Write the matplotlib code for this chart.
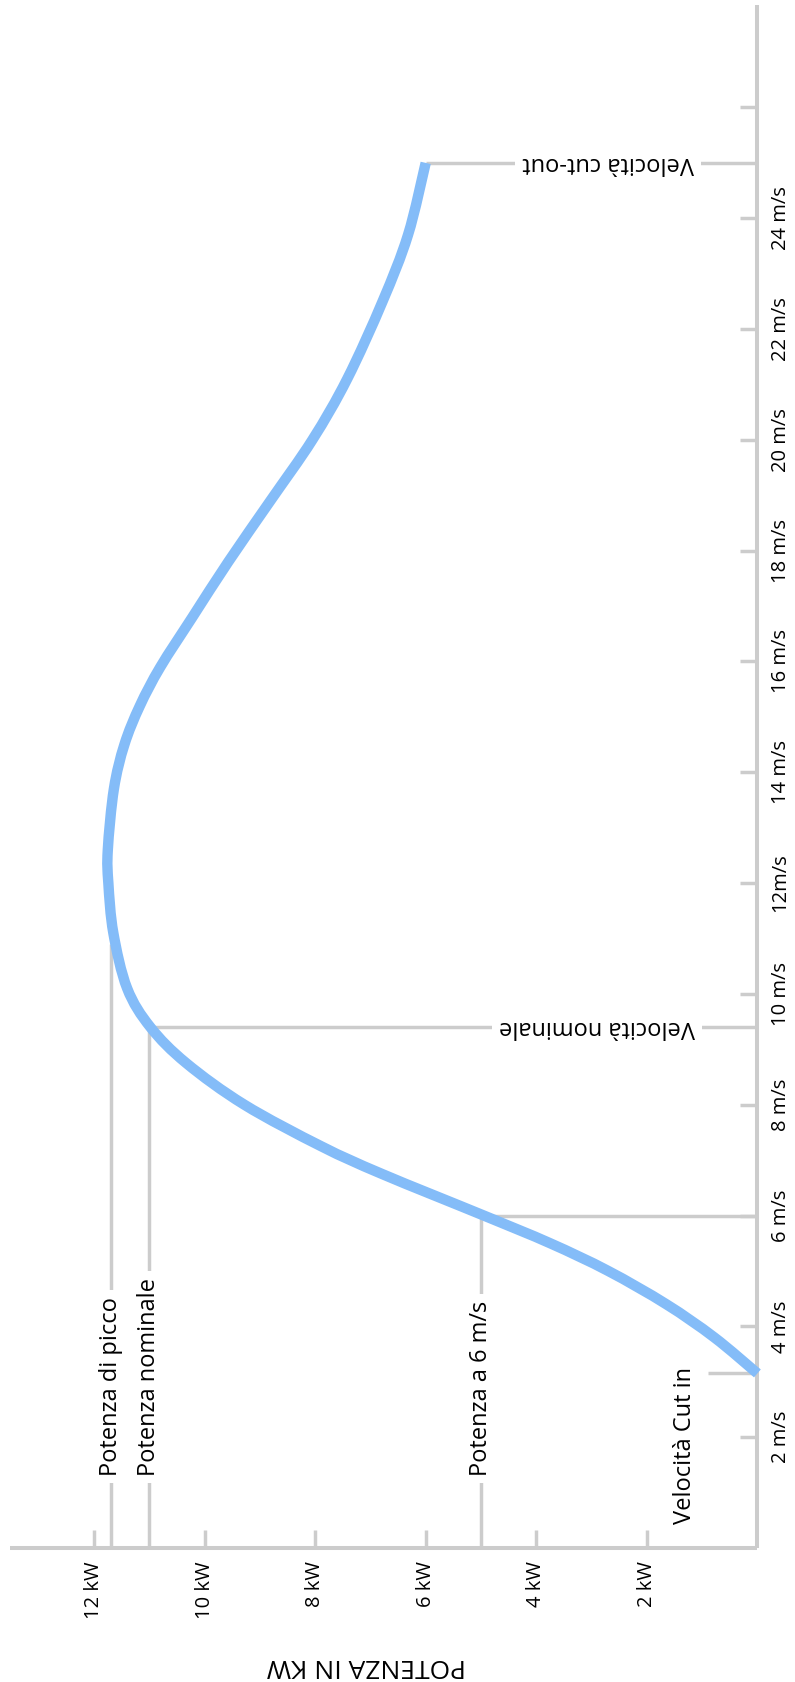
import matplotlib
matplotlib.use("Agg")
import matplotlib.pyplot as plt
from matplotlib.path import Path
from matplotlib.patches import PathPatch

plt.rcParams['font.family'] = ['Open Sans', 'DejaVu Sans']

# curva di potenza (velocità m/s, potenza kW)
speed = [3.15, 3.8, 4.4, 5.0, 5.5, 6.0, 6.75, 7.25, 8.0, 8.75, 9.4, 10.1, 11.1,
         12.0, 12.6, 13.7, 14.5, 15.2, 15.9, 16.8, 17.8, 18.9, 20.0, 21.1, 22.5, 23.7, 25.0]
power = [0, 0.78, 1.65, 2.7, 3.75, 4.95, 6.79, 7.89, 9.28, 10.33, 10.98, 11.4, 11.65,
         11.74, 11.75, 11.64, 11.45, 11.17, 10.8, 10.22, 9.57, 8.81, 8.05, 7.42, 6.78, 6.32, 6.0]

speed_ticks = [2, 4, 6, 8, 10, 12, 14, 16, 18, 20, 22, 24, 26]
speed_labels = ['2 m/s', '4 m/s', '6 m/s', '8 m/s', '10 m/s', '12m/s', '14 m/s',
                '16 m/s', '18 m/s', '20 m/s', '22 m/s', '24 m/s', '']
power_ticks = [2, 4, 6, 8, 10, 12]
power_labels = ['2 kW', '4 kW', '6 kW', '8 kW', '10 kW', '12 kW']

cut_in = 3.15
cut_out = 25.0
cut_out_power = 6.0
v_nominale = 9.4
p_nominale = 11.0
p_picco = 11.7
v_picco_hit = 10.9
p_6ms = 5.0

GREY = '#cccccc'
BLUE = '#84bcf8'

fig = plt.figure(figsize=(7.95, 16.82), dpi=100)
ax = fig.add_axes([0, 0, 1, 1])
ax.set_xlim(13.70, -0.68)
ax.set_ylim(-2.42, 27.94)
ax.axis('off')

# assi
ax.plot([0, 0], [0, 27.85], color=GREY, lw=2.9, solid_capstyle='butt')
ax.plot([13.52, 0], [0, 0], color=GREY, lw=2.9, solid_capstyle='butt')
for s in speed_ticks:
    ax.plot([0, 0.31], [s, s], color=GREY, lw=2.5, solid_capstyle='butt')
for p in power_ticks:
    ax.plot([p, p], [0, 0.33], color=GREY, lw=2.5, solid_capstyle='butt')

for s, lab in zip(speed_ticks, speed_labels):
    ax.text(-0.42, s, lab, rotation=90, ha='center', va='center', fontsize=14.5)
for p, lab in zip(power_ticks, power_labels):
    ax.text(p, -0.24, lab, rotation=90, ha='center', va='top', fontsize=14.5)

ax.text(7.08, -2.13, 'POTENZA IN KW', rotation=180, ha='center', va='center', fontsize=19)

# linee di riferimento
box = dict(facecolor='white', edgecolor='none', pad=5)
ref = dict(color=GREY, lw=2.5, solid_capstyle='butt', zorder=1)

ax.plot([p_picco, p_picco], [0, v_picco_hit], **ref)
ax.text(p_picco, 1.3, 'Potenza di picco', rotation=90, ha='center', va='bottom',
        fontsize=17, bbox=box, zorder=2)

ax.plot([p_nominale, p_nominale], [0, v_nominale], **ref)
ax.plot([0, p_nominale], [v_nominale, v_nominale], **ref)
ax.text(p_nominale, 1.3, 'Potenza nominale', rotation=90, ha='center', va='bottom',
        fontsize=17, bbox=box, zorder=2)
ax.text(1.13, v_nominale, 'Velocità nominale', rotation=180, ha='right', va='center',
        fontsize=17, bbox=box, zorder=2)

ax.plot([p_6ms, p_6ms], [0, 6], **ref)
ax.plot([0, p_6ms], [6, 6], **ref)
ax.text(p_6ms, 1.3, 'Potenza a 6 m/s', rotation=90, ha='center', va='bottom',
        fontsize=17, bbox=box, zorder=2)

ax.plot([0, cut_out_power], [cut_out, cut_out], **ref)
ax.text(1.15, cut_out, 'Velocità cut-out', rotation=180, ha='right', va='center',
        fontsize=17, bbox=box, zorder=2)

ax.plot([0, 0.9], [cut_in, cut_in], **ref)
ax.text(1.31, 0.43, 'Velocità Cut in', rotation=90, ha='center', va='bottom', fontsize=17)

# curva: tracciato morbido (Bezier) passante per i punti letti
pts = list(zip(power, speed))
verts = [pts[0]]
codes = [Path.MOVETO]
n = len(pts)
for i in range(n - 1):
    p0 = pts[max(i - 1, 0)]
    p1 = pts[i]
    p2 = pts[i + 1]
    p3 = pts[min(i + 2, n - 1)]
    c1 = (p1[0] + (p2[0] - p0[0]) / 6, p1[1] + (p2[1] - p0[1]) / 6)
    c2 = (p2[0] - (p3[0] - p1[0]) / 6, p2[1] - (p3[1] - p1[1]) / 6)
    verts += [c1, c2, p2]
    codes += [Path.CURVE4] * 3
curve = PathPatch(Path(verts, codes), fill=False, edgecolor=BLUE, lw=7.5,
                  capstyle='butt', joinstyle='round', zorder=3)
ax.add_patch(curve)

fig.savefig('out.png', dpi=100)
